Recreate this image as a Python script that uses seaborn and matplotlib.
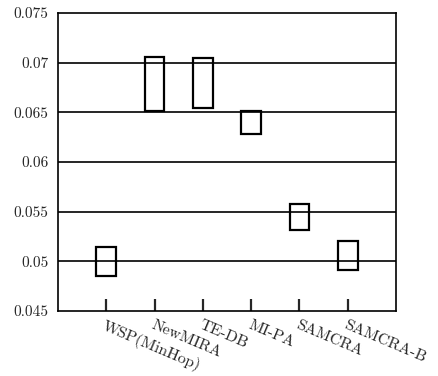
import matplotlib
matplotlib.use("Agg")
import matplotlib.pyplot as plt
import matplotlib.transforms as mtransforms
import seaborn as sns
import numpy as np
import pandas as pd

# Interval bounds for each routing algorithm
algorithms = ["WSP(MinHop)", "NewMIRA", "TE-DB", "MI-PA", "SAMCRA", "SAMCRA-B"]
low = [0.04855, 0.06516, 0.0654, 0.06282, 0.05315, 0.04913]
high = [0.05147, 0.0706, 0.0705, 0.06516, 0.05577, 0.05208]
yticks = [0.045, 0.05, 0.055, 0.06, 0.065, 0.07, 0.075]
ytick_labels = ["0.045", "0.05", "0.055", "0.06", "0.065", "0.07", "0.075"]

sns.set_style("white")
plt.rcParams["font.family"] = ["cmr10", "DejaVu Serif"]
plt.rcParams["mathtext.fontset"] = "cm"
plt.rcParams["axes.formatter.use_mathtext"] = True

df = pd.DataFrame({
    "algorithm": algorithms,
    "span": np.array(high) - np.array(low),
})

fig = plt.figure(figsize=(4.38, 3.76), dpi=100)
ax = fig.add_axes([58 / 438, 1 - 311 / 376, 338 / 438, 298 / 376])

# horizontal reference lines
for y in yticks[1:-1]:
    ax.axhline(y, color="black", lw=1.2, zorder=1)

sns.barplot(data=df, x="algorithm", y="span", bottom=low, ax=ax,
            width=0.41, fill=False, color="black", edgecolor="black",
            linewidth=1.6, zorder=3)

ax.set_xlim(-1, 6)
ax.set_ylim(0.045, 0.075)
ax.set_yticks(yticks)
ax.set_yticklabels(ytick_labels, fontsize=11)
ax.set_xticks(range(len(algorithms)))
ax.set_xticklabels(algorithms, fontsize=11.5, rotation=-23,
                   ha="left", va="top", rotation_mode="anchor")
ax.set_xlabel("")
ax.set_ylabel("")

# nudge the slanted category names a little to the right of their ticks
shift = mtransforms.ScaledTranslation(4 / 100, 0, fig.dpi_scale_trans)
for lab in ax.get_xticklabels():
    lab.set_transform(lab.get_transform() + shift)

ax.tick_params(axis="x", direction="in", length=9, width=1.6, pad=5,
               bottom=True)
ax.tick_params(axis="y", length=0, pad=7)
for s in ax.spines.values():
    s.set_visible(True)
    s.set_color("black")
    s.set_linewidth(1.2)

fig.savefig("out.png", dpi=100)
